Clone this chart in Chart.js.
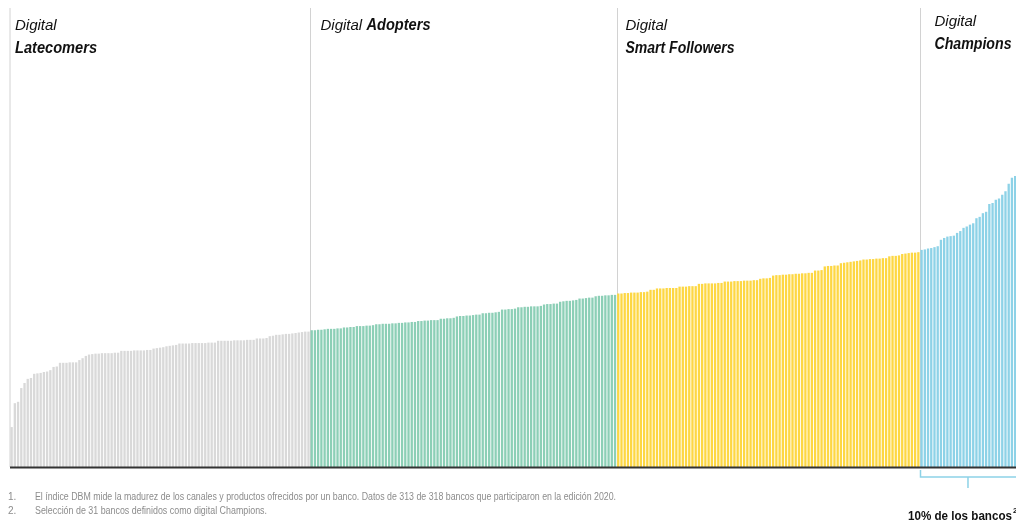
<!DOCTYPE html>
<html>
<head>
<meta charset="utf-8">
<script src="https://cdn.jsdelivr.net/npm/chart.js@4.4.1/dist/chart.umd.min.js"></script>
<style>
  html, body { margin: 0; padding: 0; background: #fff; overflow: hidden; }
  #wrap { width: 1016px; height: 522px; overflow: hidden; }
</style>
</head>
<body>
<div id="wrap"><canvas id="dbmChart" width="1020" height="522"></canvas></div>
<script>
// Índice DBM por banco, ordenado de menor a mayor (313 bancos)
const latecomers = [8.7, 13.9, 14.2, 17.2, 18.3, 19.2, 19.4, 20.3, 20.4, 20.5,
    20.7, 20.8, 21.1, 21.8, 21.9, 22.7, 22.7, 22.7, 22.8, 22.8,
    22.8, 23.3, 23.7, 24.2, 24.5, 24.6, 24.7, 24.7, 24.8, 24.8,
    24.8, 24.8, 24.9, 24.9,
    25.3, 25.3, 25.3, 25.3, 25.4, 25.4, 25.4, 25.4, 25.5, 25.5,
    25.8, 25.9, 26.0, 26.1, 26.3, 26.4, 26.5, 26.6,
    26.9, 26.9, 26.9, 26.9, 27.0, 27.0, 27.0, 27.0, 27.0, 27.1, 27.1, 27.1,
    27.5, 27.5, 27.5, 27.5, 27.5, 27.6, 27.6, 27.6, 27.6, 27.7, 27.7, 27.7,
    28.0, 28.0, 28.0, 28.1,
    28.5, 28.6, 28.8, 28.8, 28.9, 29.0, 29.0, 29.1, 29.2, 29.3, 29.4, 29.5, 29.5];

const adopters = [29.8, 29.8, 29.9, 29.9, 30.0,
    30.1, 30.1, 30.1, 30.2, 30.2,
    30.4, 30.4, 30.5, 30.5,
    30.7, 30.7, 30.7, 30.8, 30.8, 30.9,
    31.1, 31.1, 31.2, 31.2, 31.2, 31.3, 31.3,
    31.4, 31.4, 31.5, 31.5, 31.6, 31.6,
    31.8, 31.8, 31.9, 31.9, 32.0, 32.0, 32.0,
    32.3, 32.3, 32.4, 32.4, 32.5,
    32.8, 32.9, 32.9, 33.0, 33.0, 33.1, 33.2, 33.2,
    33.5, 33.5, 33.6, 33.6, 33.7, 33.8,
    34.3, 34.3, 34.4, 34.4, 34.5,
    34.8, 34.8, 34.9, 34.9, 35.0, 35.0, 35.0, 35.1,
    35.4, 35.5, 35.5, 35.6, 35.6,
    36.0, 36.1, 36.2, 36.2, 36.3, 36.4,
    36.7, 36.7, 36.8, 36.9, 36.9,
    37.2, 37.3, 37.3, 37.4, 37.4, 37.5, 37.5];

const smartFollowers = [37.8, 37.8, 37.9, 37.9, 38.0, 38.0, 38.0, 38.1, 38.1, 38.2,
    38.6, 38.6,
    38.9, 38.9, 38.9, 39.0, 39.0, 39.0, 39.0,
    39.3, 39.3, 39.3, 39.4, 39.4, 39.4,
    39.9, 39.9, 40.0, 40.0, 40.0, 40.0, 40.1, 40.1,
    40.4, 40.4, 40.4, 40.5, 40.5, 40.5, 40.6, 40.6, 40.6, 40.7, 40.7,
    41.0, 41.1, 41.1, 41.2,
    41.7, 41.8, 41.8, 41.9, 41.9, 42.0, 42.0, 42.1, 42.1, 42.2, 42.2, 42.3, 42.3,
    42.8, 42.8, 42.9,
    43.7, 43.8, 43.8, 43.9, 43.9,
    44.4, 44.5, 44.6, 44.7, 44.8, 44.9, 45.0,
    45.2, 45.2, 45.3, 45.3, 45.4, 45.4, 45.5, 45.5,
    45.9, 46.0, 46.0, 46.1,
    46.4, 46.5, 46.6, 46.7, 46.7, 46.8];

const champions = [47.3, 47.4, 47.6, 47.7, 47.9, 48.1, 49.5, 49.9, 50.2, 50.3,
    50.4, 51.0, 51.4, 52.1, 52.4, 52.8, 53.1, 54.2, 54.5, 55.3,
    55.6, 57.3, 57.5, 58.2, 58.5, 59.3, 60.1, 61.7, 63.0, 63.4, 63.7];

const groupColors = ['#d9d9d9', '#8ccfb6', '#fdd743', '#8dd2e7'];
const groupTitles = [['Digital', 'Latecomers'], ['Digital', 'Adopters'], ['Digital', 'Smart Followers'], ['Digital', 'Champions']];
const footnotes = [
    ['1.', 'El índice DBM mide la madurez de los canales y productos ofrecidos por un banco. Datos de 313 de 318 bancos que participaron en la edición 2020.'],
    ['2.', 'Selección de 31 bancos definidos como digital Champions.']
];
const bracketLabel = '10% de los bancos';

const groups = [latecomers, adopters, smartFollowers, champions];
const values = groups.flat();
const labels = values.map((v, i) => i + 1);
const colors = [];
const starts = [];
groups.forEach((g, gi) => {
    starts.push(colors.length);
    g.forEach(() => colors.push(groupColors[gi]));
});

function boundaryX(chart, idx) {
    const x = chart.scales.x;
    if (idx === 0) return chart.chartArea.left;
    return Math.round((x.getPixelForValue(idx - 1) + x.getPixelForValue(idx)) / 2) + 0.5;
}

const decorPlugin = {
    id: 'decor',
    beforeDatasetsDraw(chart) {
        const ctx = chart.ctx;
        const area = chart.chartArea;
        ctx.save();
        ctx.strokeStyle = '#d2d2d2';
        ctx.lineWidth = 1;
        starts.forEach(s => {
            const bx = boundaryX(chart, s);
            ctx.beginPath();
            ctx.moveTo(bx, 8);
            ctx.lineTo(bx, area.bottom);
            ctx.stroke();
        });
        ctx.restore();
    },
    afterDatasetsDraw(chart) {
        const ctx = chart.ctx;
        const area = chart.chartArea;
        const x = chart.scales.x;
        ctx.save();

        // eje base
        ctx.strokeStyle = '#333';
        ctx.lineWidth = 2;
        ctx.beginPath();
        ctx.moveTo(area.left, area.bottom + 0.5);
        ctx.lineTo(chart.width, area.bottom + 0.5);
        ctx.stroke();

        // títulos de grupo
        ctx.fillStyle = '#111';
        ctx.textBaseline = 'alphabetic';
        const offs = [5, 10, 8, 14];
        starts.forEach((s, gi) => {
            const tx = boundaryX(chart, s) + offs[gi];
            const t = groupTitles[gi];
            if (gi === 1) {
                ctx.font = 'italic 15px "Liberation Sans"';
                ctx.fillText(t[0], tx, 30, 42);
                ctx.font = 'italic bold 16px "Liberation Sans"';
                ctx.fillText(t[1], tx + 46, 30, 64);
            } else {
                const y0 = gi === 3 ? 26 : 30;
                ctx.font = 'italic 15px "Liberation Sans"';
                ctx.fillText(t[0], tx, y0, 44);
                ctx.font = 'italic bold 16px "Liberation Sans"';
                const w = { 0: 82, 2: 109, 3: 77 }[gi];
                ctx.fillText(t[1], tx, y0 + 23, w);
            }
        });

        // llave de los Champions
        const cStart = starts[3];
        const bx0 = boundaryX(chart, cStart);
        const mid = x.getPixelForValue(cStart + Math.floor(champions.length / 2)) - 2;
        ctx.strokeStyle = '#8dd2e7';
        ctx.lineWidth = 1.5;
        ctx.beginPath();
        ctx.moveTo(bx0, 470);
        ctx.lineTo(bx0, 477);
        ctx.lineTo(chart.width, 477);
        ctx.moveTo(mid, 477);
        ctx.lineTo(mid, 488);
        ctx.stroke();

        ctx.fillStyle = '#111';
        ctx.font = 'bold 13px "Liberation Sans"';
        ctx.fillText(bracketLabel, 908, 520, 104);
        ctx.font = 'bold 8px "Liberation Sans"';
        ctx.fillText('2', 1013, 513);

        // notas
        ctx.fillStyle = '#8c8c8c';
        ctx.font = '10px "Liberation Sans"';
        ctx.fillText(footnotes[0][0], 8, 499.5);
        ctx.fillText(footnotes[0][1], 35, 499.5, 581);
        ctx.fillText(footnotes[1][0], 8, 513.5);
        ctx.fillText(footnotes[1][1], 35, 513.5, 232);

        ctx.restore();
    }
};

new Chart(document.getElementById('dbmChart').getContext('2d'), {
    type: 'bar',
    data: {
        labels: labels,
        datasets: [{
            data: values,
            backgroundColor: colors,
            borderWidth: 0,
            barPercentage: 0.72,
            categoryPercentage: 1
        }]
    },
    options: {
        responsive: false,
        animation: false,
        layout: { padding: { left: 10, right: 0, top: 8, bottom: 55 } },
        plugins: {
            legend: { display: false },
            tooltip: { enabled: false }
        },
        scales: {
            x: { display: false, offset: true },
            y: { display: false, min: 0, max: 100 }
        }
    },
    plugins: [decorPlugin]
});
</script>
</body>
</html>
